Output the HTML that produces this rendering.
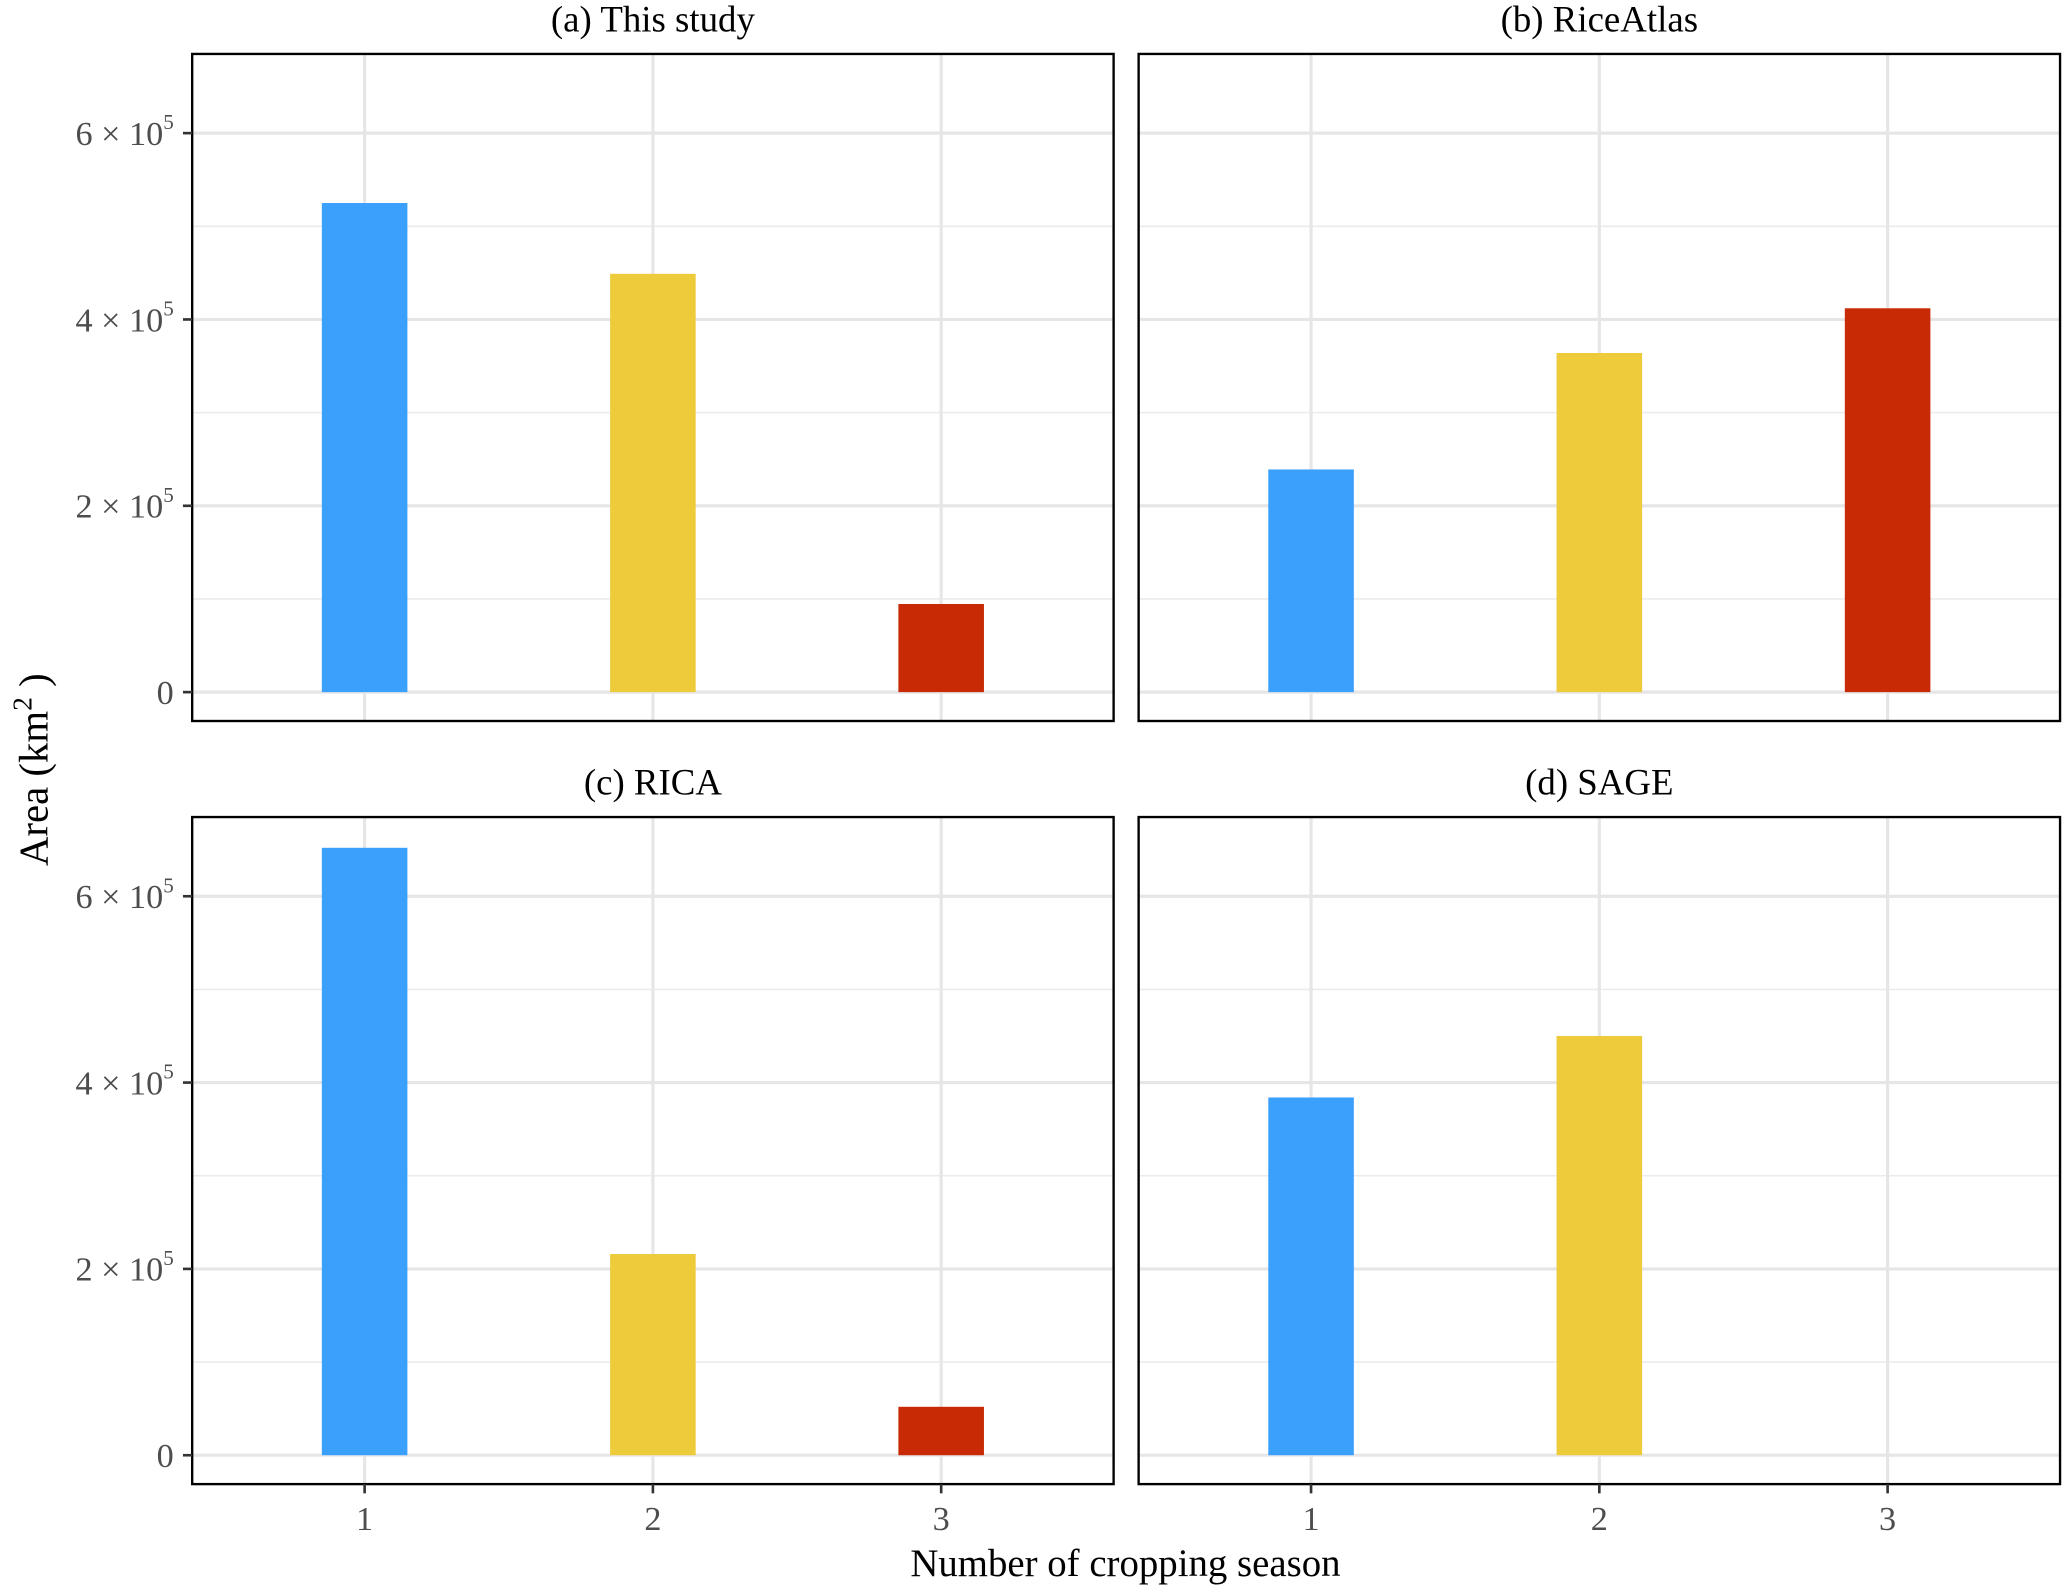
<!DOCTYPE html>
<html><head><meta charset="utf-8"><style>
html,body{margin:0;padding:0;background:#fff;}
svg{display:block;font-family:"Liberation Serif",serif;}
</style></head><body>
<svg id="chart" width="2064" height="1592" viewBox="0 0 1568 1210" preserveAspectRatio="none" xmlns="http://www.w3.org/2000/svg">
<text transform="translate(36,585) rotate(-90)" text-anchor="middle" font-size="31" fill="#000">Area (km<tspan font-size="21" dy="-12">2</tspan><tspan dy="12"> )</tspan></text>
<text x="855" y="1198" text-anchor="middle" font-size="29.5" fill="#000">Number of cropping season</text>
</svg>
<script>
const categories = [1, 2, 3];
const panelTitles = ["(a) This study", "(b) RiceAtlas", "(c) RICA", "(d) SAGE"];
const valuesA = [525000, 449000, 94600];
const valuesB = [239000, 364000, 412000];
const valuesC = [652000, 216000, 52000];
const valuesD = [384000, 450000, 0];
const yTicks = [0, 200000, 400000, 600000];
const yTickExps = ["0", "2", "4", "6"];
const colors = ["#3b9ffc", "#edcb3a", "#c92a06"];

const svg = document.getElementById('chart');
const NS = 'http://www.w3.org/2000/svg';
function mk(tag, attrs, parent){const e=document.createElementNS(NS,tag);for(const k in attrs)e.setAttribute(k,attrs[k]);(parent||svg).appendChild(e);return e;}

const panels = [
  {x:146, y:41, vals:valuesA, t:panelTitles[0], left:true, bottom:false},
  {x:865, y:41, vals:valuesB, t:panelTitles[1], left:false, bottom:false},
  {x:146, y:621, vals:valuesC, t:panelTitles[2], left:true, bottom:true},
  {x:865, y:621, vals:valuesD, t:panelTitles[3], left:false, bottom:true}
];
const W = 700, H = 507;
const yMin = -31000, yMax = 685000;
const barW = 65;

panels.forEach((p, pi) => {
  const g = mk('g', {});
  
  
  const ys = v => p.y + H - (v - yMin) / (yMax - yMin) * H;
  const xs = c => p.x + 131 + (c - 1) * 219;
  for (let v = 100000; v < yMax; v += 200000) {
    const l = mk('line', {x1:p.x, x2:p.x+W, y1:ys(v), y2:ys(v), stroke:'#ebebeb', 'stroke-width':1.2}, g);
    
    
  }
  yTicks.forEach(v => {
    const l = mk('line', {x1:p.x, x2:p.x+W, y1:ys(v), y2:ys(v), stroke:'#e6e6e6', 'stroke-width':2.4}, g);
    
    
  });
  categories.forEach(c => {
    const l = mk('line', {x1:xs(c), x2:xs(c), y1:p.y, y2:p.y+H, stroke:'#e6e6e6', 'stroke-width':2.4}, g);
    
    
  });
  categories.forEach((c, i) => {
    const v = p.vals[i];
    if (v <= 0) return;
    const r = mk('rect', {x:xs(c)-barW/2, y:ys(v), width:barW, height:ys(0)-ys(v), fill:colors[i]}, g);
    
    
  });
  const b = mk('rect', {x:p.x, y:p.y, width:W, height:H, fill:'none', stroke:'#000', 'stroke-width':1.8}, g);
  
  
  const t = mk('text', {x:p.x+W/2, y:p.y-17, 'text-anchor':'middle', 'font-size':28, fill:'#000'}, g);
  t.textContent = p.t;
  
  
  if (p.left) {
    yTicks.forEach((v, i) => {
      const tk = mk('line', {x1:p.x-7, x2:p.x, y1:ys(v), y2:ys(v), stroke:'#333', 'stroke-width':2}, g);
      
      
      const tx = mk('text', {x:p.x-14, y:ys(v)+9, 'text-anchor':'end', 'font-size':26, fill:'#4d4d4d'}, g);
      
      
      if (v === 0) tx.textContent = '0';
      else {
        tx.textContent = yTickExps[i] + ' \u00d7 10';
        const s = mk('tspan', {'font-size':16, dy:-12}, tx);
        s.textContent = '5';
        tx.setAttribute('x', p.x - 14);
      }
    });
  }
  if (p.bottom) {
    categories.forEach(c => {
      const tk = mk('line', {x1:xs(c), x2:xs(c), y1:p.y+H, y2:p.y+H+7, stroke:'#333', 'stroke-width':2}, g);
      
      
      const tx = mk('text', {x:xs(c), y:p.y+H+35, 'text-anchor':'middle', 'font-size':26, fill:'#4d4d4d'}, g);
      tx.textContent = c;
      
      
    });
  }
});
</script>
</body></html>
